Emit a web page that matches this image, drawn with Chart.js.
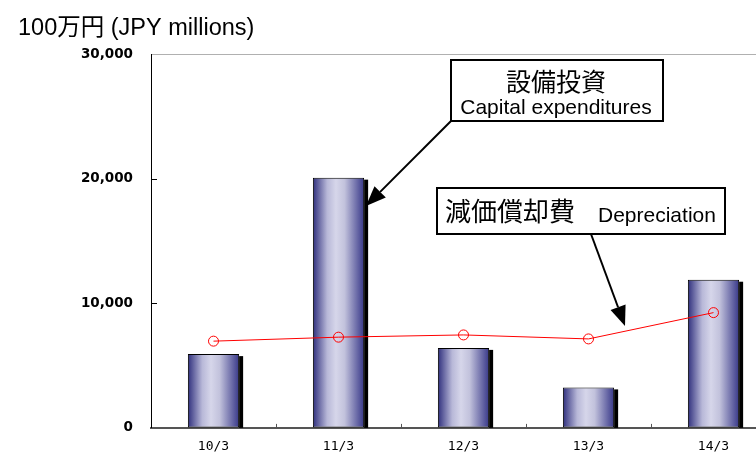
<!DOCTYPE html>
<html>
<head>
<meta charset="utf-8">
<script src="https://cdn.jsdelivr.net/npm/chart.js@4/dist/chart.umd.min.js"></script>
<style>
html,body{margin:0;padding:0;background:#fff;overflow:hidden;width:756px;height:454px;}
canvas{display:block;}
</style>
</head>
<body>
<canvas id="c" width="800" height="454"></canvas>
<script>
const categories = ['10/3','11/3','12/3','13/3','14/3'];
const capexValues = [5920, 20080, 6420, 3250, 11890];
const depreciationValues = [6960, 7280, 7460, 7140, 9250];
const yTicks = [0, 10000, 20000, 30000];
const unitLabel = '100万円 (JPY millions)';
const capexLabelJa = '設備投資';
const capexLabelEn = 'Capital expenditures';
const depLabelJa = '減価償却費';
const depLabelEn = 'Depreciation';

const BAR_PCT = 0.41;

function barGradient(ctx) {
  const chart = ctx.chart;
  const xs = chart.scales && chart.scales.x;
  if (!chart.chartArea || !xs || ctx.dataIndex === undefined) return '#6a6aa8';
  const c = xs.getPixelForValue(ctx.dataIndex);
  const half = (xs.width / categories.length) * BAR_PCT / 2;
  const g = chart.ctx.createLinearGradient(c - half, 0, c + half, 0);
  g.addColorStop(0, '#2f2f7d');
  g.addColorStop(0.28, '#b8b8d8');
  g.addColorStop(0.45, '#d6d6ea');
  g.addColorStop(0.62, '#c2c2dc');
  g.addColorStop(1, '#383889');
  return g;
}

const shadowPlugin = {
  id: 'barShadow',
  beforeDatasetDraw(chart, args) {
    if (args.meta.type !== 'bar') return;
    const ctx = chart.ctx;
    const a = chart.chartArea;
    ctx.save();
    ctx.fillStyle = '#000';
    args.meta.data.forEach(bar => {
      const p = bar.getProps(['x', 'y', 'base', 'width'], true);
      const right = p.x + p.width / 2;
      ctx.fillRect(right, p.y + 2, 4, a.bottom - (p.y + 2));
    });
    ctx.restore();
  }
};

function arrow(ctx, x1, y1, x2, y2) {
  const ang = Math.atan2(y2 - y1, x2 - x1);
  const hl = 20, hw = 8;
  const bx = x2 - hl * Math.cos(ang), by = y2 - hl * Math.sin(ang);
  ctx.beginPath();
  ctx.moveTo(x1, y1);
  ctx.lineTo(bx, by);
  ctx.lineWidth = 2;
  ctx.strokeStyle = '#000';
  ctx.stroke();
  ctx.beginPath();
  ctx.moveTo(x2, y2);
  ctx.lineTo(bx + hw * Math.sin(ang), by - hw * Math.cos(ang));
  ctx.lineTo(bx - hw * Math.sin(ang), by + hw * Math.cos(ang));
  ctx.closePath();
  ctx.fillStyle = '#000';
  ctx.fill();
}

const decorPlugin = {
  id: 'decor',
  afterDraw(chart) {
    const ctx = chart.ctx;
    const a = chart.chartArea;
    const xs = chart.scales.x, ys = chart.scales.y;
    ctx.save();
    ctx.strokeStyle = '#000';
    ctx.lineWidth = 1;
    [10000, 20000].forEach(v => {
      const y = Math.round(ys.getPixelForValue(v)) + 0.5;
      ctx.beginPath(); ctx.moveTo(a.left, y); ctx.lineTo(a.left + 6, y); ctx.stroke();
    });
    ctx.strokeStyle = '#555';
    const cw = xs.width / categories.length;
    for (let i = 1; i < categories.length; i++) {
      const x = Math.round(a.left + i * cw) + 0.5;
      ctx.beginPath(); ctx.moveTo(x, a.bottom); ctx.lineTo(x, a.bottom - 4); ctx.stroke();
    }
    ctx.fillStyle = '#000';
    ctx.textAlign = 'left';
    ctx.textBaseline = 'alphabetic';
    ctx.font = '23.5px "Liberation Sans", "Noto Sans CJK JP", sans-serif';
    ctx.fillText(unitLabel, 18, 35);

    ctx.lineWidth = 2;
    ctx.strokeStyle = '#000';
    ctx.fillStyle = '#fff';
    ctx.fillRect(451, 60, 212, 61);
    ctx.strokeRect(451, 60, 212, 61);
    ctx.fillStyle = '#000';
    ctx.textAlign = 'center';
    ctx.textBaseline = 'middle';
    ctx.font = '25px "Noto Sans CJK JP", sans-serif';
    ctx.fillText(capexLabelJa, 556, 81);
    ctx.font = '21px "Liberation Sans", sans-serif';
    ctx.fillText(capexLabelEn, 556, 108);
    arrow(ctx, 451, 121, 366, 206);

    ctx.fillStyle = '#fff';
    ctx.fillRect(437, 188, 288, 46);
    ctx.strokeRect(437, 188, 288, 46);
    ctx.fillStyle = '#000';
    ctx.textAlign = 'left';
    ctx.font = '26px "Noto Sans CJK JP", sans-serif';
    ctx.fillText(depLabelJa, 445, 211);
    ctx.font = '21px "Liberation Sans", sans-serif';
    ctx.fillText(depLabelEn, 598, 216);
    arrow(ctx, 591, 234, 625, 326);
    ctx.restore();
  }
};

new Chart(document.getElementById('c'), {
  data: {
    labels: categories,
    datasets: [
      {
        type: 'line',
        label: depLabelEn,
        data: depreciationValues,
        borderColor: '#ff0000',
        borderWidth: 1,
        pointRadius: 5,
        pointBorderColor: '#ff0000',
        pointBackgroundColor: 'rgba(0,0,0,0)',
        pointBorderWidth: 1,
        tension: 0,
        order: 0
      },
      {
        type: 'bar',
        label: capexLabelEn,
        data: capexValues,
        backgroundColor: barGradient,
        borderColor: '#000',
        borderWidth: 1,
        borderSkipped: false,
        barPercentage: BAR_PCT,
        categoryPercentage: 1,
        order: 1
      }
    ]
  },
  options: {
    responsive: false,
    animation: false,
    devicePixelRatio: 1,
    layout: { padding: { left: 0, top: 54, right: 24, bottom: 0 } },
    plugins: { legend: { display: false }, tooltip: { enabled: false } },
    scales: {
      x: {
        type: 'category',
        grid: { display: false, drawTicks: false },
        border: { color: '#555', width: 2 },
        ticks: {
          color: '#000',
          padding: 11,
          maxRotation: 0,
          font: { family: '"DejaVu Sans Mono", monospace', size: 13 }
        },
        afterFit(s) { s.height = 25; }
      },
      y: {
        min: 0, max: 30000,
        afterBuildTicks(s) { s.ticks = yTicks.map(v => ({ value: v })); },
        grid: {
          drawTicks: false,
          color: c => (c.tick && c.tick.value === 30000) ? '#b0b0b0' : 'rgba(0,0,0,0)'
        },
        border: { color: '#000', width: 1 },
        ticks: {
          color: '#000',
          padding: 18,
          font: { family: '"DejaVu Sans", sans-serif', size: 13.5, weight: 'bold' },
          callback: v => v.toLocaleString('en-US')
        },
        afterFit(s) { s.width = 151; }
      }
    }
  },
  plugins: [shadowPlugin, decorPlugin]
});
</script>
</body>
</html>
